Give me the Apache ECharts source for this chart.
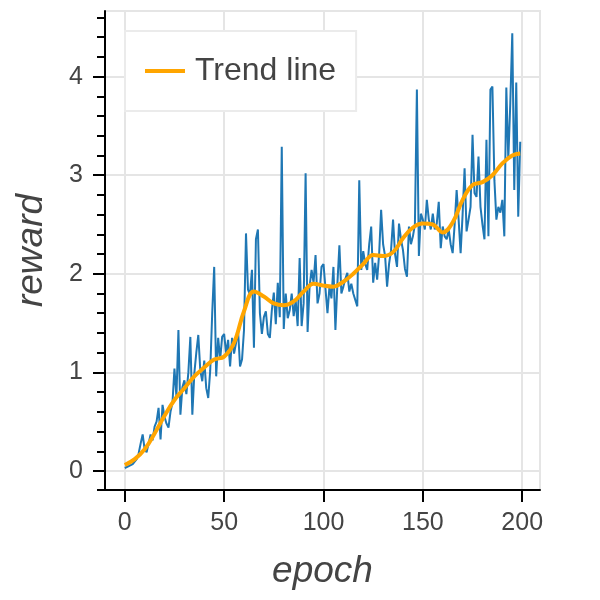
<!DOCTYPE html>
<html>
<head>
<meta charset="utf-8">
<script src="https://cdn.jsdelivr.net/npm/echarts@6/dist/echarts.min.js"></script>
<style>
  html, body { margin: 0; padding: 0; background: #fff; }
  #reward_chart { width: 600px; height: 600px; }
</style>
</head>
<body>
<div id="reward_chart"></div>
<script>
    // reward per epoch
    var reward = [
        0.03, 0.04, 0.05, 0.06, 0.07, 0.09, 0.12, 0.18, 0.28, 0.37,
        0.22, 0.19, 0.28, 0.37, 0.31, 0.45, 0.50, 0.64, 0.32, 0.67,
        0.55, 0.48, 0.44, 0.60, 0.69, 1.04, 0.75, 1.43, 0.57, 0.85,
        0.92, 0.78, 1.00, 1.36, 0.57, 0.99, 1.20, 1.38, 1.02, 0.91,
        1.12, 0.84, 0.74, 1.02, 1.60, 2.07, 0.96, 1.35, 1.13, 1.36,
        1.39, 1.19, 1.33, 1.06, 1.35, 1.19, 1.30, 1.43, 1.06, 1.13,
        1.43, 2.41, 1.84, 1.79, 2.04, 1.25, 2.35, 2.45, 1.60, 1.39,
        1.56, 1.62, 1.39, 1.35, 1.63, 1.81, 1.49, 1.91, 1.56, 3.29,
        1.44, 1.80, 1.55, 1.63, 1.80, 1.57, 1.73, 1.47, 2.16, 1.47,
        1.70, 3.02, 1.41, 1.87, 2.04, 1.91, 2.19, 1.70, 1.80, 2.07,
        2.10, 1.85, 1.60, 1.87, 1.75, 2.07, 1.43, 1.90, 2.29, 1.80,
        1.87, 1.95, 2.01, 1.82, 1.90, 1.80, 1.82, 1.67, 2.95, 2.04,
        2.23, 2.10, 2.04, 2.30, 2.48, 1.91, 2.11, 1.94, 2.20, 2.65,
        2.30, 2.18, 1.87, 2.10, 2.24, 2.55, 2.20, 2.07, 2.51, 2.35,
        2.24, 2.05, 1.97, 2.48, 2.30, 2.38, 2.50, 3.87, 2.18, 2.61,
        2.55, 2.45, 2.75, 2.55, 2.45, 2.61, 2.45, 2.51, 2.73, 2.26,
        2.48, 2.38, 2.35, 2.45, 2.30, 2.21, 2.50, 2.85, 2.55, 2.21,
        2.60, 3.07, 2.43, 2.55, 2.68, 3.41, 2.82, 2.78, 3.19, 2.68,
        2.50, 2.35, 3.36, 2.38, 3.87, 3.90, 2.95, 2.55, 2.68, 2.62,
        2.75, 2.38, 3.89, 3.16, 3.73, 4.44, 2.85, 3.94, 2.58, 3.34
    ];

    // trend line, sampled every 5 epochs
    var trendEpoch = [0, 5, 10, 15, 20, 25, 30, 35, 40, 45, 50, 55, 60, 65, 70, 75, 80, 85, 90, 95,
        100, 105, 110, 115, 120, 125, 130, 135, 140, 145, 150, 155, 160, 165, 170, 175, 180, 185, 190, 195, 199];
    var trendValue = [0.06, 0.12, 0.22, 0.38, 0.56, 0.72, 0.84, 0.96, 1.05, 1.13, 1.16, 1.30, 1.62, 1.82, 1.77, 1.70, 1.68, 1.72, 1.82, 1.90,
        1.88, 1.87, 1.92, 2.00, 2.10, 2.19, 2.18, 2.22, 2.36, 2.47, 2.51, 2.50, 2.42, 2.52, 2.75, 2.90, 2.93, 3.00, 3.12, 3.20, 3.22];

    var xTicks = [0, 50, 100, 150, 200];
    var yTicks = [0, 1, 2, 3, 4];
    // minor ticks every 0.2 (the lowest one sits right at the axis end)
    var yMinorTicks = [-0.19];
    for (let k = 0; k <= 23; k++) {
        yMinorTicks.push(Math.round(k * 2) / 10);
    }

    var epochs = [];
    for (let i = 0; i < reward.length; i++) {
        epochs.push(i);
    }

    var Reward_chart = echarts.init(document.getElementById('reward_chart'));

    var textColor = '#444444';
    var gridColor = '#e5e5e5';
    var fontName = '"Liberation Sans", Arial, sans-serif';

    var Reward_charts = {
        animation: false,
        grid: {
            left: 105,
            right: 60,
            top: 11,
            bottom: 110,
            show: true,
            borderColor: gridColor,
            borderWidth: 2,
            containLabel: false,
            outerBoundsMode: 'none'
        },
        legend: {
            data: ['Trend line'],
            left: 125,
            top: 31,
            orient: 'vertical',
            icon: 'rect',
            itemWidth: 40,
            itemHeight: 4,
            padding: [24, 20, 24, 20],
            backgroundColor: '#ffffff',
            borderColor: '#ebebeb',
            borderWidth: 2,
            textStyle: {
                fontFamily: fontName,
                fontSize: 32,
                color: textColor,
                padding: [0, 0, 0, 5]
            }
        },
        xAxis: {
            type: 'value',
            min: -9.95,
            max: 208.95,
            name: 'epoch',
            nameLocation: 'middle',
            nameGap: 63,
            nameTextStyle: {
                fontFamily: fontName,
                fontStyle: 'italic',
                fontSize: 37,
                color: textColor
            },
            axisLine: { onZero: false, lineStyle: { color: '#000', width: 2 } },
            axisTick: { customValues: xTicks, length: 12, lineStyle: { color: '#000', width: 2 } },
            axisLabel: {
                customValues: xTicks,
                margin: 21,
                fontFamily: fontName,
                fontSize: 25,
                color: textColor
            },
            splitLine: { show: true, lineStyle: { color: gridColor, width: 2 } }
        },
        yAxis: [
            {
                type: 'value',
                min: -0.193,
                max: 4.666,
                name: 'reward',
                nameLocation: 'middle',
                nameGap: 55,
                nameTextStyle: {
                    fontFamily: fontName,
                    fontStyle: 'italic',
                    fontSize: 37,
                    color: textColor
                },
                axisLine: { onZero: false, lineStyle: { color: '#000', width: 2 } },
                axisTick: { customValues: yTicks, length: 12, lineStyle: { color: '#000', width: 2 } },
                axisLabel: {
                    customValues: yTicks,
                    margin: 22,
                    fontFamily: fontName,
                    fontSize: 25,
                    color: textColor
                },
                splitLine: { show: true, lineStyle: { color: gridColor, width: 2 } }
            },
            {
                // minor ticks only
                type: 'value',
                min: -0.193,
                max: 4.666,
                position: 'left',
                offset: 0,
                axisLine: { show: false, onZero: false },
                axisTick: { show: true, customValues: yMinorTicks, length: 8, lineStyle: { color: '#000', width: 2 } },
                axisLabel: { show: false },
                splitLine: { show: false }
            }
        ],
        series: [
            {
                name: 'reward',
                type: 'line',
                data: epochs.map(function (e, i) { return [e, reward[i]]; }),
                showSymbol: false,
                symbol: 'none',
                lineStyle: { color: '#1f77b4', width: 2 },
                itemStyle: { color: '#1f77b4' },
                z: 2
            },
            {
                name: 'Trend line',
                type: 'line',
                data: trendEpoch.map(function (e, i) { return [e, trendValue[i]]; }),
                smooth: 0.4,
                showSymbol: false,
                symbol: 'none',
                lineStyle: { color: '#ffa500', width: 4 },
                itemStyle: { color: '#ffa500' },
                z: 3
            }
        ]
    };

    Reward_chart.setOption(Reward_charts);
</script>
</body>
</html>
